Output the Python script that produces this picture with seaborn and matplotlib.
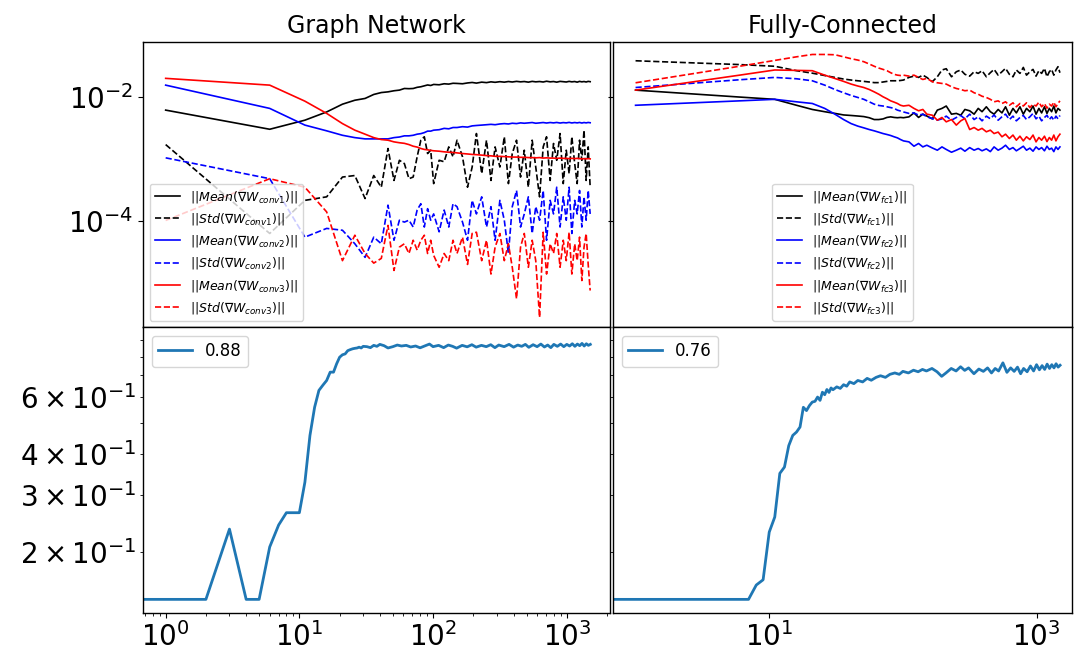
import matplotlib
matplotlib.use("Agg")
import matplotlib.pyplot as plt
from matplotlib.ticker import FixedLocator, NullLocator, LogLocator
import seaborn as sns

# ---------------- data ----------------
titles = ["Graph Network", "Fully-Connected"]

x_top = [1, 6, 11, 16, 21, 26, 31, 36, 41, 46,
         51, 56, 61, 66, 71, 76, 81, 86, 91, 96,
         101, 111, 121, 131, 141, 151, 166, 181, 196, 211,
         231, 251, 271, 291, 316, 341, 366, 391, 421, 451,
         481, 516, 551, 586, 626, 666, 706, 751, 796, 841,
         891, 941, 991, 1041, 1091, 1146, 1196, 1246, 1296, 1346,
         1396, 1446, 1496]

gn_mean1 = [6.1e-3, 3.0e-3, 4.2e-3, 5.7e-3, 7.6e-3, 8.8e-3, 9.4e-3, 1.09e-2, 1.17e-2, 1.20e-2,
            1.25e-2, 1.28e-2, 1.36e-2, 1.35e-2, 1.36e-2, 1.42e-2, 1.45e-2, 1.50e-2, 1.55e-2, 1.52e-2,
            1.58e-2, 1.56e-2, 1.62e-2, 1.60e-2, 1.65e-2, 1.64e-2, 1.62e-2, 1.67e-2, 1.70e-2, 1.66e-2,
            1.72e-2, 1.69e-2, 1.74e-2, 1.71e-2, 1.75e-2, 1.72e-2, 1.76e-2, 1.73e-2, 1.77e-2, 1.74e-2,
            1.76e-2, 1.72e-2, 1.77e-2, 1.74e-2, 1.76e-2, 1.73e-2, 1.78e-2, 1.74e-2, 1.76e-2, 1.72e-2,
            1.77e-2, 1.75e-2, 1.73e-2, 1.77e-2, 1.74e-2, 1.76e-2, 1.72e-2, 1.77e-2, 1.74e-2, 1.76e-2,
            1.73e-2, 1.77e-2, 1.75e-2]
gn_std1 = [1.7e-3, 6.3e-5, 2.15e-4, 2.45e-4, 5.1e-4, 5.4e-4, 2.3e-4, 5.4e-4, 3.5e-4, 1.47e-3,
           4.5e-4, 9.5e-4, 8.4e-4, 4.8e-4, 5.1e-4, 1.08e-3, 2.0e-3, 2.27e-3, 1.22e-3, 1.38e-3,
           4.0e-4, 9.5e-4, 9.0e-4, 1.56e-3, 1.08e-3, 2.0e-3, 1.08e-3, 3.5e-4, 7.4e-4, 2.56e-3,
           5.8e-4, 2.0e-3, 4.5e-4, 1.56e-3, 7.4e-4, 2.27e-3, 4.0e-4, 1.22e-3, 2.0e-3, 5.1e-4,
           1.38e-3, 3.5e-4, 2.0e-3, 7.4e-4, 2.45e-4, 1.56e-3, 2.27e-3, 4.5e-4, 1.77e-3, 9.5e-4,
           2.56e-3, 4.0e-4, 1.38e-3, 5.8e-4, 2.27e-3, 8.4e-4, 4.0e-4, 2.0e-3, 9.5e-4, 2.9e-3,
           4.5e-4, 1.56e-3, 3.5e-4]
gn_mean2 = [1.54e-2, 6.5e-3, 3.5e-3, 2.83e-3, 2.4e-3, 2.2e-3, 2.1e-3, 2.1e-3, 2.1e-3, 2.1e-3,
            2.2e-3, 2.25e-3, 2.35e-3, 2.35e-3, 2.4e-3, 2.5e-3, 2.55e-3, 2.65e-3, 2.8e-3, 2.8e-3,
            2.9e-3, 2.95e-3, 3.1e-3, 3.05e-3, 3.2e-3, 3.2e-3, 3.3e-3, 3.25e-3, 3.4e-3, 3.45e-3,
            3.5e-3, 3.55e-3, 3.6e-3, 3.55e-3, 3.65e-3, 3.7e-3, 3.65e-3, 3.75e-3, 3.7e-3, 3.8e-3,
            3.75e-3, 3.8e-3, 3.85e-3, 3.75e-3, 3.8e-3, 3.85e-3, 3.78e-3, 3.85e-3, 3.8e-3, 3.86e-3,
            3.78e-3, 3.84e-3, 3.8e-3, 3.87e-3, 3.79e-3, 3.85e-3, 3.8e-3, 3.86e-3, 3.78e-3, 3.85e-3,
            3.8e-3, 3.86e-3, 3.82e-3]
gn_std2 = [1.04e-3, 4.8e-4, 5.5e-5, 7.6e-5, 7.1e-5, 4.3e-5, 2.6e-5, 5.5e-5, 4.3e-5, 1.8e-4,
           4.9e-5, 1.03e-4, 9.6e-5, 1.03e-4, 8.0e-5, 1.5e-4, 1.9e-4, 8.0e-5, 1.58e-4, 1.03e-4,
           1.3e-4, 6.7e-5, 1.5e-4, 8.0e-5, 1.9e-4, 1.7e-4, 9.6e-5, 4.9e-5, 2.15e-4, 1.3e-4,
           2.45e-4, 8.0e-5, 1.7e-4, 4.9e-5, 2.15e-4, 1.03e-4, 3.0e-5, 1.7e-4, 3.1e-4, 8.0e-5,
           1.3e-4, 2.45e-4, 6.3e-5, 1.7e-4, 1.03e-4, 3.1e-4, 4.9e-5, 2.15e-4, 1.3e-4, 3.5e-4,
           8.0e-5, 2.45e-4, 1.03e-4, 3.5e-4, 6.3e-5, 2.15e-4, 1.3e-4, 3.1e-4, 8.0e-5, 2.45e-4,
           1.03e-4, 3.1e-4, 1.3e-4]
gn_mean3 = [1.98e-2, 1.54e-2, 8.5e-3, 5.4e-3, 3.7e-3, 2.9e-3, 2.5e-3, 2.2e-3, 2.05e-3, 2.0e-3,
            1.88e-3, 1.82e-3, 1.78e-3, 1.7e-3, 1.6e-3, 1.55e-3, 1.47e-3, 1.42e-3, 1.4e-3, 1.37e-3,
            1.35e-3, 1.33e-3, 1.3e-3, 1.28e-3, 1.27e-3, 1.25e-3, 1.22e-3, 1.2e-3, 1.18e-3, 1.17e-3,
            1.15e-3, 1.13e-3, 1.12e-3, 1.1e-3, 1.1e-3, 1.09e-3, 1.08e-3, 1.07e-3, 1.07e-3, 1.06e-3,
            1.06e-3, 1.05e-3, 1.05e-3, 1.04e-3, 1.05e-3, 1.03e-3, 1.04e-3, 1.03e-3, 1.03e-3, 1.02e-3,
            1.03e-3, 1.02e-3, 1.02e-3, 1.01e-3, 1.02e-3, 1.01e-3, 1.02e-3, 1.01e-3, 1.0e-3, 1.01e-3,
            1.0e-3, 1.01e-3, 1.0e-3]
gn_std3 = [1.02e-4, 4.8e-4, 3.5e-4, 1.4e-4, 2.3e-5, 5.9e-5, 3.0e-5, 2.1e-5, 2.5e-5, 8.5e-5,
           1.6e-5, 3.8e-5, 4.3e-5, 3.0e-5, 4.9e-5, 3.4e-5, 4.9e-5, 5.9e-5, 3.0e-5, 4.9e-5,
           2.8e-5, 1.8e-5, 3.0e-5, 2.3e-5, 4.9e-5, 3.0e-5, 5.5e-5, 2.0e-5, 6.3e-5, 6.6e-5,
           2.3e-5, 4.9e-5, 1.4e-5, 3.8e-5, 6.3e-5, 2.3e-5, 4.3e-5, 1.8e-5, 5.6e-6, 3.8e-5,
           6.3e-5, 1.8e-5, 4.9e-5, 2.3e-5, 2.8e-6, 6.6e-5, 1.4e-5, 4.3e-5, 3.0e-5, 6.3e-5,
           1.8e-5, 4.9e-5, 2.3e-5, 6.6e-5, 1.4e-5, 4.3e-5, 2.3e-5, 5.5e-5, 1.1e-5, 3.8e-5,
           6.3e-5, 2.0e-5, 7.6e-6]

fc_mean1 = [1.28e-2, 9.9e-3, 9.1e-3, 7.3e-3, 6.25e-3, 5.75e-3, 5.4e-3, 5.1e-3, 5.0e-3, 4.9e-3,
            4.8e-3, 4.6e-3, 4.3e-3, 4.3e-3, 4.4e-3, 4.65e-3, 4.75e-3, 4.65e-3, 4.6e-3, 4.65e-3,
            4.6e-3, 4.75e-3, 5.5e-3, 4.65e-3, 5.25e-3, 4.9e-3, 4.4e-3, 6.1e-3, 6.5e-3, 7.1e-3,
            5.25e-3, 5.4e-3, 5.05e-3, 6.25e-3, 5.95e-3, 5.25e-3, 6.5e-3, 5.75e-3, 6.9e-3, 5.75e-3,
            5.25e-3, 6.25e-3, 5.5e-3, 6.9e-3, 5.05e-3, 6.5e-3, 5.5e-3, 6.9e-3, 5.25e-3, 6.5e-3,
            5.75e-3, 7.1e-3, 5.25e-3, 6.5e-3, 5.5e-3, 6.9e-3, 5.4e-3, 6.5e-3, 5.75e-3, 7.1e-3,
            5.5e-3, 6.5e-3, 6.1e-3]
fc_std1 = [3.8e-2, 3.3e-2, 3.1e-2, 2.63e-2, 2.4e-2, 2.2e-2, 2.05e-2, 1.93e-2, 1.86e-2, 1.81e-2,
           1.77e-2, 1.73e-2, 1.69e-2, 1.69e-2, 1.73e-2, 1.77e-2, 1.81e-2, 1.81e-2, 1.81e-2, 1.83e-2,
           1.86e-2, 2.05e-2, 2.15e-2, 2.05e-2, 2.23e-2, 2.05e-2, 1.75e-2, 2.1e-2, 2.7e-2, 2.83e-2,
           2.1e-2, 2.53e-2, 2.7e-2, 2.3e-2, 2.15e-2, 2.53e-2, 2.38e-2, 2.63e-2, 2.1e-2, 2.44e-2,
           2.76e-2, 2.23e-2, 2.53e-2, 2.87e-2, 2.3e-2, 2.1e-2, 2.7e-2, 2.38e-2, 2.97e-2, 2.23e-2,
           2.53e-2, 2.76e-2, 2.15e-2, 2.63e-2, 2.38e-2, 2.87e-2, 2.1e-2, 2.53e-2, 2.76e-2, 2.23e-2,
           2.7e-2, 3.05e-2, 2.44e-2]
fc_mean2 = [7.3e-3, 8.6e-3, 9.1e-3, 8.3e-3, 7.8e-3, 6.5e-3, 5.25e-3, 4.3e-3, 3.7e-3, 3.37e-3,
            3.16e-3, 2.97e-3, 2.83e-3, 2.69e-3, 2.56e-3, 2.47e-3, 2.38e-3, 2.27e-3, 2.18e-3, 2.05e-3,
            1.95e-3, 1.88e-3, 1.6e-3, 1.77e-3, 1.56e-3, 1.66e-3, 1.5e-3, 1.38e-3, 1.56e-3, 1.42e-3,
            1.28e-3, 1.38e-3, 1.49e-3, 1.33e-3, 1.52e-3, 1.38e-3, 1.47e-3, 1.35e-3, 1.45e-3, 1.31e-3,
            1.56e-3, 1.38e-3, 1.49e-3, 1.66e-3, 1.42e-3, 1.52e-3, 1.35e-3, 1.47e-3, 1.6e-3, 1.38e-3,
            1.49e-3, 1.33e-3, 1.56e-3, 1.42e-3, 1.52e-3, 1.35e-3, 1.6e-3, 1.42e-3, 1.49e-3, 1.31e-3,
            1.56e-3, 1.42e-3, 1.56e-3]
fc_std2 = [1.41e-2, 1.88e-2, 2.05e-2, 1.95e-2, 1.81e-2, 1.54e-2, 1.31e-2, 1.16e-2, 1.05e-2, 9.75e-3,
           9.1e-3, 8.3e-3, 7.6e-3, 7.25e-3, 7.1e-3, 6.9e-3, 6.7e-3, 6.5e-3, 6.1e-3, 5.9e-3,
           5.7e-3, 5.4e-3, 5.5e-3, 5.05e-3, 5.25e-3, 4.76e-3, 4.47e-3, 4.2e-3, 4.42e-3, 4.88e-3,
           4.2e-3, 4.64e-3, 5.0e-3, 4.42e-3, 5.25e-3, 4.3e-3, 4.76e-3, 4.1e-3, 4.88e-3, 4.42e-3,
           5.1e-3, 4.2e-3, 4.76e-3, 5.25e-3, 4.3e-3, 4.88e-3, 4.1e-3, 4.64e-3, 5.0e-3, 4.3e-3,
           4.76e-3, 5.4e-3, 4.42e-3, 4.88e-3, 4.1e-3, 4.64e-3, 5.05e-3, 4.3e-3, 4.76e-3, 4.2e-3,
           4.88e-3, 4.42e-3, 5.0e-3]
fc_mean3 = [1.28e-2, 2.23e-2, 2.7e-2, 2.66e-2, 2.63e-2, 2.23e-2, 1.97e-2, 1.77e-2, 1.6e-2, 1.49e-2,
            1.41e-2, 1.31e-2, 1.2e-2, 1.1e-2, 1.0e-2, 9.3e-3, 8.6e-3, 8.2e-3, 7.8e-3, 7.3e-3,
            7.1e-3, 7.3e-3, 6.5e-3, 5.95e-3, 6.25e-3, 5.25e-3, 5.05e-3, 4.2e-3, 4.64e-3, 3.95e-3,
            4.3e-3, 3.5e-3, 4.1e-3, 4.47e-3, 2.97e-3, 3.2e-3, 2.9e-3, 3.1e-3, 2.73e-3, 2.9e-3,
            2.56e-3, 2.7e-3, 2.27e-3, 2.5e-3, 2.13e-3, 2.42e-3, 2.0e-3, 2.32e-3, 1.95e-3, 2.27e-3,
            2.05e-3, 2.42e-3, 1.88e-3, 2.21e-3, 2.0e-3, 2.32e-3, 1.9e-3, 2.21e-3, 2.0e-3, 2.42e-3,
            1.95e-3, 2.27e-3, 2.5e-3]
fc_std3 = [1.68e-2, 3.1e-2, 3.85e-2, 4.4e-2, 4.8e-2, 4.8e-2, 4.75e-2, 4.4e-2, 4.1e-2, 3.9e-2,
           3.67e-2, 3.37e-2, 3.1e-2, 2.9e-2, 2.76e-2, 2.63e-2, 2.44e-2, 2.3e-2, 2.23e-2, 2.2e-2,
           2.23e-2, 2.15e-2, 2.23e-2, 2.05e-2, 1.9e-2, 1.98e-2, 1.75e-2, 1.68e-2, 1.64e-2, 1.6e-2,
           1.45e-2, 1.36e-2, 1.31e-2, 1.25e-2, 1.28e-2, 1.16e-2, 1.1e-2, 1.02e-2, 9.75e-3, 9.1e-3,
           8.3e-3, 8.6e-3, 7.8e-3, 8.3e-3, 7.3e-3, 8.0e-3, 6.9e-3, 7.8e-3, 7.1e-3, 8.0e-3,
           6.7e-3, 7.6e-3, 7.1e-3, 8.2e-3, 6.9e-3, 7.8e-3, 6.55e-3, 7.6e-3, 7.1e-3, 8.2e-3,
           6.9e-3, 7.8e-3, 8.6e-3]

gn_labels = [r"$||Mean(\nabla W_{conv1})||$", r"$||Std(\nabla W_{conv1})||$",
             r"$||Mean(\nabla W_{conv2})||$", r"$||Std(\nabla W_{conv2})||$",
             r"$||Mean(\nabla W_{conv3})||$", r"$||Std(\nabla W_{conv3})||$"]
fc_labels = [r"$||Mean(\nabla W_{fc1})||$", r"$||Std(\nabla W_{fc1})||$",
             r"$||Mean(\nabla W_{fc2})||$", r"$||Std(\nabla W_{fc2})||$",
             r"$||Mean(\nabla W_{fc3})||$", r"$||Std(\nabla W_{fc3})||$"]

x_acc = [0, 1, 2, 3, 4, 5, 6, 7, 8, 9,
         10, 11, 12, 13, 14, 15, 16, 17, 18, 19,
         20, 21, 22, 23, 24, 25, 26, 27, 28, 29,
         30,
         32, 34, 36, 38, 40, 43, 46, 50, 54, 58,
         63, 68, 74, 80, 87, 94, 100, 110, 120, 130,
         140, 150, 165, 180, 195, 210, 230, 250, 270, 290,
         310, 340, 370, 400, 430, 460, 490, 520, 560, 600,
         640, 680, 720, 760, 800, 850, 900, 950, 1000, 1050,
         1100, 1150, 1200, 1250, 1300, 1350, 1400, 1450, 1500]
acc_gn = [0.1427, 0.1427, 0.1427, 0.235, 0.1427, 0.1427, 0.207, 0.242, 0.264, 0.264,
          0.264, 0.328, 0.457, 0.558, 0.629, 0.653, 0.675, 0.716, 0.716, 0.760,
          0.796, 0.810, 0.815, 0.834, 0.840, 0.845, 0.848, 0.850, 0.855, 0.850,
          0.860,
          0.858, 0.852, 0.866, 0.860, 0.872, 0.864, 0.850, 0.858, 0.868, 0.862,
          0.866, 0.856, 0.862, 0.851, 0.863, 0.874, 0.858, 0.866, 0.852, 0.868,
          0.860, 0.849, 0.866, 0.857, 0.870, 0.855, 0.866, 0.858, 0.870, 0.852,
          0.868, 0.858, 0.872, 0.855, 0.868, 0.860, 0.872, 0.854, 0.870, 0.858,
          0.874, 0.856, 0.868, 0.852, 0.872, 0.860, 0.874, 0.858, 0.872, 0.862,
          0.876, 0.860, 0.874, 0.864, 0.878, 0.862, 0.876, 0.866, 0.872]
acc_fc = [0.1427, 0.1427, 0.1427, 0.1427, 0.1427, 0.1427, 0.1427, 0.1427, 0.158, 0.164,
          0.230, 0.256, 0.349, 0.365, 0.425, 0.457, 0.468, 0.485, 0.558, 0.545,
          0.565, 0.579, 0.582, 0.600, 0.586, 0.621, 0.610, 0.633, 0.620, 0.640,
          0.632,
          0.645, 0.638, 0.655, 0.648, 0.668, 0.660, 0.675, 0.668, 0.685, 0.676,
          0.690, 0.698, 0.690, 0.705, 0.712, 0.705, 0.720, 0.712, 0.726, 0.718,
          0.730, 0.722, 0.735, 0.718, 0.695, 0.712, 0.735, 0.722, 0.744, 0.725,
          0.738, 0.708, 0.732, 0.720, 0.738, 0.712, 0.735, 0.722, 0.765, 0.715,
          0.738, 0.720, 0.742, 0.708, 0.735, 0.718, 0.748, 0.722, 0.755, 0.728,
          0.750, 0.730, 0.758, 0.735, 0.755, 0.738, 0.760, 0.742, 0.752]
acc_labels = ["0.88", "0.76"]

# ---------------- styling ----------------
colors = ["black", "black", "blue", "blue", "red", "red"]
styles = ["-", "--", "-", "--", "-", "--"]

plt.rcParams["font.family"] = ["DejaVu Sans"]
plt.rcParams["axes.linewidth"] = 1.0

fig, axes = plt.subplots(
    2, 2, figsize=(10.74, 6.57), dpi=100, sharey="row",
    gridspec_kw=dict(width_ratios=[466.7, 458.7], left=0.1334, right=0.9981,
                     top=0.9365, bottom=0.0674, wspace=0.0071, hspace=0.0))

top_sets = [
    (axes[0, 0], [gn_mean1, gn_std1, gn_mean2, gn_std2, gn_mean3, gn_std3], gn_labels, "lower left"),
    (axes[0, 1], [fc_mean1, fc_std1, fc_mean2, fc_std2, fc_mean3, fc_std3], fc_labels, "lower center"),
]
for ax, series, labels, loc in top_sets:
    for vals, c, ls, lab in zip(series, colors, styles, labels):
        sns.lineplot(x=x_top, y=vals, ax=ax, color=c, linestyle=ls, linewidth=1.2,
                     label=lab, estimator=None, errorbar=None, legend=False)

for ax, vals, lab in [(axes[1, 0], acc_gn, acc_labels[0]), (axes[1, 1], acc_fc, acc_labels[1])]:
    sns.lineplot(x=x_acc, y=vals, ax=ax, color="#1f77b4", linewidth=2.0,
                 label=lab, estimator=None, errorbar=None, legend=False)

for ax in axes.flat:
    ax.set_xscale("log")
    ax.set_yscale("log")
    ax.tick_params(which="both", labelsize=20)

for ax in axes[:, 0]:
    ax.set_xlim(0.68, 2104)
    ax.xaxis.set_major_locator(FixedLocator([1, 10, 100, 1000]))
    ax.xaxis.set_minor_locator(LogLocator(base=10, subs=(2, 3, 4, 5, 6, 7, 8, 9), numticks=30))
for ax in axes[:, 1]:
    ax.set_xlim(0.681, 1840)
    ax.xaxis.set_major_locator(FixedLocator([10, 1000]))
    ax.xaxis.set_minor_locator(NullLocator())

axes[0, 0].set_ylim(1.95e-6, 0.077)
axes[0, 0].yaxis.set_major_locator(FixedLocator([1e-4, 1e-2]))
axes[0, 0].yaxis.set_minor_locator(NullLocator())
axes[1, 0].set_ylim(0.1298, 0.985)

for ax in axes[0, :]:
    ax.tick_params(axis="x", which="both", bottom=False, labelbottom=False)

for ax, t in zip(axes[0, :], titles):
    ax.set_title(t, fontsize=17)

axes[0, 0].legend(loc="lower left", fontsize=9)
axes[0, 1].legend(loc="lower center", fontsize=9)
axes[1, 0].legend(loc="upper left", fontsize=12)
axes[1, 1].legend(loc="upper left", fontsize=12)

fig.savefig("out.png", dpi=100)
